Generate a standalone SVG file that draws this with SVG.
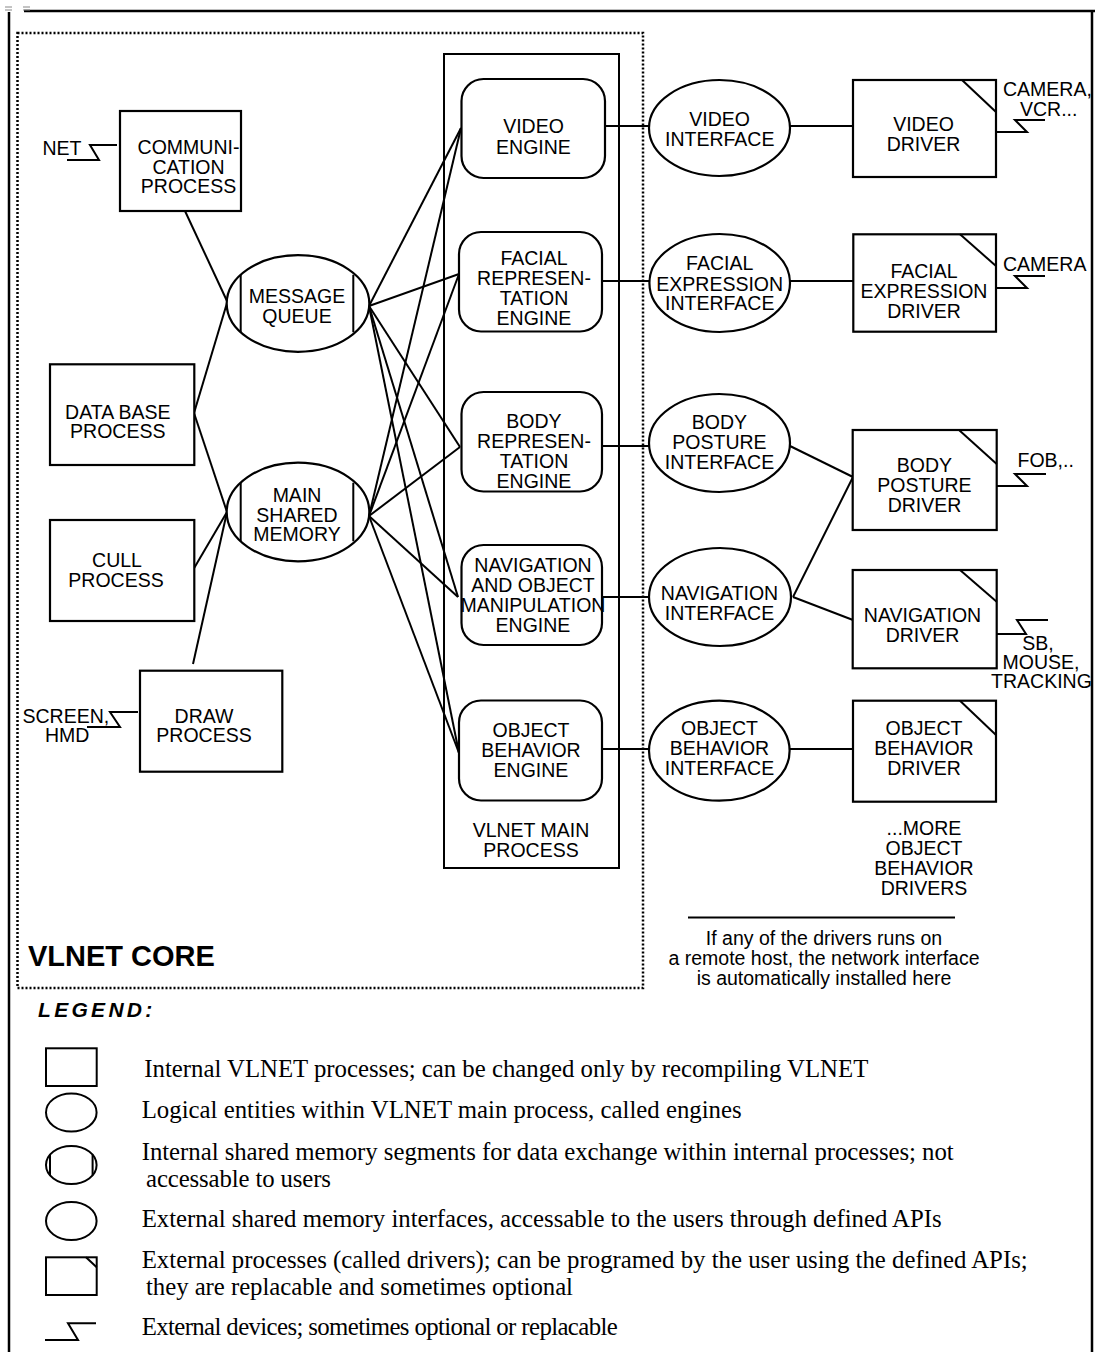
<svg xmlns="http://www.w3.org/2000/svg" width="1095" height="1352" viewBox="0 0 1095 1352">
<style>
.s{fill:none;stroke:#000;stroke-width:2}
.f{fill:#fff;stroke:#000;stroke-width:2.2}
.t{font-family:"Liberation Sans",Arial,sans-serif;font-size:19.5px;text-anchor:middle;fill:#000}
.tl{font-family:"Liberation Sans",Arial,sans-serif;font-size:19.5px;fill:#000}
.lg{font-family:"Liberation Serif","Times New Roman",serif;font-size:24.8px;fill:#000}
</style>
<rect width="1095" height="1352" fill="#fff"/>
<!-- frame -->
<g id="frame">
<path d="M9,12 V1352 M24,11 H1095 M1092,11 V1352" fill="none" stroke="#000" stroke-width="2.5"/>
<path d="M5,7 H12 M5,10 H12 M23,7 H30 M23,10 H30" stroke="#888" stroke-width="1"/>
<rect x="17.5" y="33" width="625.5" height="955" fill="none" stroke="#000" stroke-width="2.5" stroke-dasharray="2 2"/>
<rect x="444" y="54" width="175" height="814" class="s"/>
</g>
<!-- connectors -->
<g id="connectors" class="s">
<line x1="185" y1="211" x2="227" y2="301"/>
<line x1="194" y1="413" x2="227" y2="303"/>
<line x1="194" y1="413" x2="227" y2="512"/>
<line x1="193" y1="570" x2="227" y2="512"/>
<line x1="193" y1="664" x2="227" y2="512"/>
<line x1="369" y1="306" x2="461" y2="128"/>
<line x1="369" y1="306" x2="459" y2="274"/>
<line x1="369" y1="306" x2="460" y2="447"/>
<line x1="369" y1="306" x2="458" y2="597"/>
<line x1="369" y1="306" x2="459" y2="753"/>
<line x1="369" y1="516" x2="461" y2="128"/>
<line x1="369" y1="516" x2="459" y2="274"/>
<line x1="369" y1="516" x2="460" y2="447"/>
<line x1="369" y1="516" x2="458" y2="597"/>
<line x1="369" y1="516" x2="459" y2="753"/>
<line x1="598" y1="126" x2="649" y2="126"/>
<line x1="598" y1="281" x2="649" y2="281"/>
<line x1="601" y1="446" x2="649" y2="446"/>
<line x1="601" y1="597" x2="649" y2="597"/>
<line x1="599" y1="749" x2="649" y2="749"/>
<line x1="790" y1="126" x2="853" y2="126"/>
<line x1="790" y1="281" x2="853" y2="281"/>
<line x1="790" y1="446" x2="853" y2="477"/>
<line x1="793" y1="597" x2="853" y2="477"/>
<line x1="793" y1="597" x2="853" y2="620"/>
<line x1="789" y1="749" x2="853" y2="749"/>
<line x1="688" y1="917.5" x2="955" y2="917.5"/>
</g>
<!-- devices -->
<g id="devices" class="s">
<path d="M117,145 H90 L99,160 H67"/>
<path d="M138,712 H110 L120,727 H87"/>
<path d="M996,132 H1027 L1015,120 H1045"/>
<path d="M996,288 H1027 L1015,276 H1045"/>
<path d="M996,486 H1027 L1015,474 H1046"/>
<path d="M997,634 H1026 L1017,620 H1048"/>
</g>
<g id="net-label"><text class="tl" x="42.5" y="155">NET</text></g>
<g id="screen-label"><text class="tl" x="22.5" y="722.7">SCREEN,</text><text class="tl" x="45" y="742.3">HMD</text></g>
<g id="camera-vcr-label"><text class="tl" x="1003" y="96">CAMERA,</text><text class="tl" x="1020" y="115.7">VCR...</text></g>
<g id="camera-label"><text class="tl" x="1003" y="270.7">CAMERA</text></g>
<g id="fob-label"><text class="tl" x="1017.5" y="466.7">FOB,..</text></g>
<g id="sb-label"><text class="t" x="1038" y="650">SB,</text><text class="t" x="1041" y="669.3">MOUSE,</text><text class="t" x="1041.5" y="688.3">TRACKING</text></g>
<!-- internal processes -->
<g id="communication-process">
<rect x="120" y="111" width="121" height="100" class="f"/>
<text class="t" x="188.5" y="154">COMMUNI-</text><text class="t" x="188.5" y="173.5">CATION</text><text class="t" x="188.5" y="192.7">PROCESS</text>
</g>
<g id="database-process">
<rect x="50" y="364.3" width="144.3" height="100.7" class="f"/>
<text class="t" x="117.8" y="419">DATA BASE</text><text class="t" x="117.8" y="438.3">PROCESS</text>
</g>
<g id="cull-process">
<rect x="50" y="520" width="144.3" height="101" class="f"/>
<text class="t" x="117" y="566.7">CULL</text><text class="t" x="116" y="586.7">PROCESS</text>
</g>
<g id="draw-process">
<rect x="140" y="670.7" width="142.3" height="101" class="f"/>
<text class="t" x="204" y="722.7">DRAW</text><text class="t" x="204" y="742.3">PROCESS</text>
</g>
<!-- shared memories -->
<g id="message-queue">
<ellipse cx="298" cy="303.5" rx="71.3" ry="48.3" class="f"/>
<path d="M240.7,274.8 V332.2 M353.3,274.8 V332.2" class="s"/>
<text class="t" x="297" y="303.3">MESSAGE</text><text class="t" x="297" y="323.3">QUEUE</text>
</g>
<g id="main-shared-memory">
<ellipse cx="298" cy="512" rx="71.3" ry="49.3" class="f"/>
<path d="M240.7,482.7 V541.3 M353.3,482.7 V541.3" class="s"/>
<text class="t" x="297" y="501.7">MAIN</text><text class="t" x="297" y="521.5">SHARED</text><text class="t" x="297" y="541">MEMORY</text>
</g>
<!-- engines -->
<g id="video-engine">
<rect x="461.5" y="79" width="143.5" height="99" rx="22" class="f"/>
<text class="t" x="533.5" y="133.3">VIDEO</text><text class="t" x="533.5" y="154">ENGINE</text>
</g>
<g id="facial-representation-engine">
<rect x="459" y="232" width="143" height="99.5" rx="22" class="f"/>
<text class="t" x="534" y="265">FACIAL</text><text class="t" x="534" y="285">REPRESEN-</text><text class="t" x="534" y="305">TATION</text><text class="t" x="534" y="325">ENGINE</text>
</g>
<g id="body-representation-engine">
<rect x="461.5" y="392" width="140.5" height="99.5" rx="22" class="f"/>
<text class="t" x="534" y="428.3">BODY</text><text class="t" x="534" y="448.3">REPRESEN-</text><text class="t" x="534" y="468.3">TATION</text><text class="t" x="534" y="488.3">ENGINE</text>
</g>
<g id="navigation-engine">
<rect x="461.5" y="545" width="140.5" height="100" rx="22" class="f"/>
<text class="t" x="533" y="571.7">NAVIGATION</text><text class="t" x="533" y="591.7">AND OBJECT</text><text class="t" x="533" y="611.7">MANIPULATION</text><text class="t" x="533" y="631.7">ENGINE</text>
</g>
<g id="object-behavior-engine">
<rect x="459" y="700.5" width="143" height="100" rx="22" class="f"/>
<text class="t" x="531" y="736.7">OBJECT</text><text class="t" x="531" y="757.3">BEHAVIOR</text><text class="t" x="531" y="777.3">ENGINE</text>
</g>
<g id="vlnet-main-process-label">
<text class="t" x="531" y="836.7">VLNET MAIN</text><text class="t" x="531" y="856.7">PROCESS</text>
</g>
<!-- interfaces -->
<g id="video-interface">
<ellipse cx="719.5" cy="128" rx="70.5" ry="48" class="f"/>
<text class="t" x="719.7" y="125.7">VIDEO</text><text class="t" x="719.7" y="145.7">INTERFACE</text>
</g>
<g id="facial-expression-interface">
<ellipse cx="719.7" cy="283" rx="70.3" ry="49" class="f"/>
<text class="t" x="719.7" y="270">FACIAL</text><text class="t" x="719.7" y="290.7">EXPRESSION</text><text class="t" x="719.7" y="310">INTERFACE</text>
</g>
<g id="body-posture-interface">
<ellipse cx="719.5" cy="443" rx="70.5" ry="49" class="f"/>
<text class="t" x="719.5" y="429">BODY</text><text class="t" x="719.5" y="449">POSTURE</text><text class="t" x="719.5" y="469">INTERFACE</text>
</g>
<g id="navigation-interface">
<ellipse cx="720" cy="597" rx="71" ry="49" class="f"/>
<text class="t" x="719.5" y="600">NAVIGATION</text><text class="t" x="719.5" y="620">INTERFACE</text>
</g>
<g id="object-behavior-interface">
<ellipse cx="719.3" cy="750.7" rx="70.3" ry="50" class="f"/>
<text class="t" x="719.5" y="735">OBJECT</text><text class="t" x="719.5" y="755">BEHAVIOR</text><text class="t" x="719.5" y="775">INTERFACE</text>
</g>
<!-- drivers -->
<g id="video-driver">
<rect x="853" y="80" width="143" height="97" class="f"/>
<line x1="962" y1="80" x2="996" y2="112" class="s"/>
<text class="t" x="923.5" y="131">VIDEO</text><text class="t" x="923.5" y="150.7">DRIVER</text>
</g>
<g id="facial-expression-driver">
<rect x="853.3" y="234.3" width="142.7" height="97.4" class="f"/>
<line x1="960" y1="234.3" x2="996" y2="266" class="s"/>
<text class="t" x="924" y="278.3">FACIAL</text><text class="t" x="924" y="298.3">EXPRESSION</text><text class="t" x="924" y="318.3">DRIVER</text>
</g>
<g id="body-posture-driver">
<rect x="852.7" y="430" width="144" height="100" class="f"/>
<line x1="959" y1="430" x2="996.7" y2="464" class="s"/>
<text class="t" x="924.5" y="471.7">BODY</text><text class="t" x="924.5" y="491.7">POSTURE</text><text class="t" x="924.5" y="511.7">DRIVER</text>
</g>
<g id="navigation-driver">
<rect x="852.7" y="570" width="144" height="98.3" class="f"/>
<line x1="960" y1="570" x2="996.7" y2="601.7" class="s"/>
<text class="t" x="922.5" y="621.7">NAVIGATION</text><text class="t" x="922.5" y="642.3">DRIVER</text>
</g>
<g id="object-behavior-driver">
<rect x="853" y="700.7" width="143" height="101" class="f"/>
<line x1="960" y1="700.7" x2="996" y2="735" class="s"/>
<text class="t" x="924" y="735">OBJECT</text><text class="t" x="924" y="755">BEHAVIOR</text><text class="t" x="924" y="775">DRIVER</text>
</g>
<g id="more-drivers">
<text class="t" x="924" y="835">...MORE</text><text class="t" x="924" y="855">OBJECT</text><text class="t" x="924" y="875">BEHAVIOR</text><text class="t" x="924" y="895">DRIVERS</text>
</g>
<g id="note">
<text class="t" x="824" y="945">If any of the drivers runs on</text>
<text class="t" x="824" y="965">a remote host, the network interface</text>
<text class="t" x="824" y="985">is automatically installed here</text>
</g>
<g id="vlnet-core-label">
<text x="28" y="966" font-family="Liberation Sans, Arial, sans-serif" font-size="29" font-weight="bold">VLNET CORE</text>
</g>
<!-- legend -->
<g id="legend">
<text x="38" y="1017" font-family="Liberation Sans, Arial, sans-serif" font-size="21" font-weight="bold" font-style="italic" letter-spacing="3.3">LEGEND:</text>
<rect x="46" y="1048.3" width="50.7" height="37.7" class="s"/>
<ellipse cx="71.3" cy="1112.5" rx="25.3" ry="19" class="s"/>
<ellipse cx="71.3" cy="1165" rx="25.3" ry="19" class="s"/>
<path d="M50,1154.7 V1175.3 M92.6,1154.7 V1175.3" class="s"/>
<ellipse cx="71.3" cy="1221" rx="25.3" ry="19" class="s"/>
<rect x="46" y="1257.3" width="50.7" height="37.7" class="s"/>
<line x1="86" y1="1257.3" x2="96.7" y2="1267.3" class="s"/>
<path d="M45,1340 H78 L68,1323.3 H96" class="s"/>
<text class="lg" x="144.3" y="1076.7" textLength="724">Internal VLNET processes; can be changed only by recompiling VLNET</text>
<text class="lg" x="141.7" y="1118.3" textLength="600">Logical entities within VLNET main process, called engines</text>
<text class="lg" x="141.7" y="1160" textLength="812">Internal shared memory segments for data exchange within internal processes; not</text>
<text class="lg" x="146" y="1186.7" textLength="185">accessable to users</text>
<text class="lg" x="141.7" y="1226.7" textLength="800">External shared memory interfaces, accessable to the users through defined APIs</text>
<text class="lg" x="141.7" y="1268.3" textLength="886">External processes (called drivers); can be programed by the user using the defined APIs;</text>
<text class="lg" x="146" y="1295" textLength="427">they are replacable and sometimes optional</text>
<text class="lg" x="141.7" y="1335" textLength="476">External devices; sometimes optional or replacable</text>
</g>
</svg>
